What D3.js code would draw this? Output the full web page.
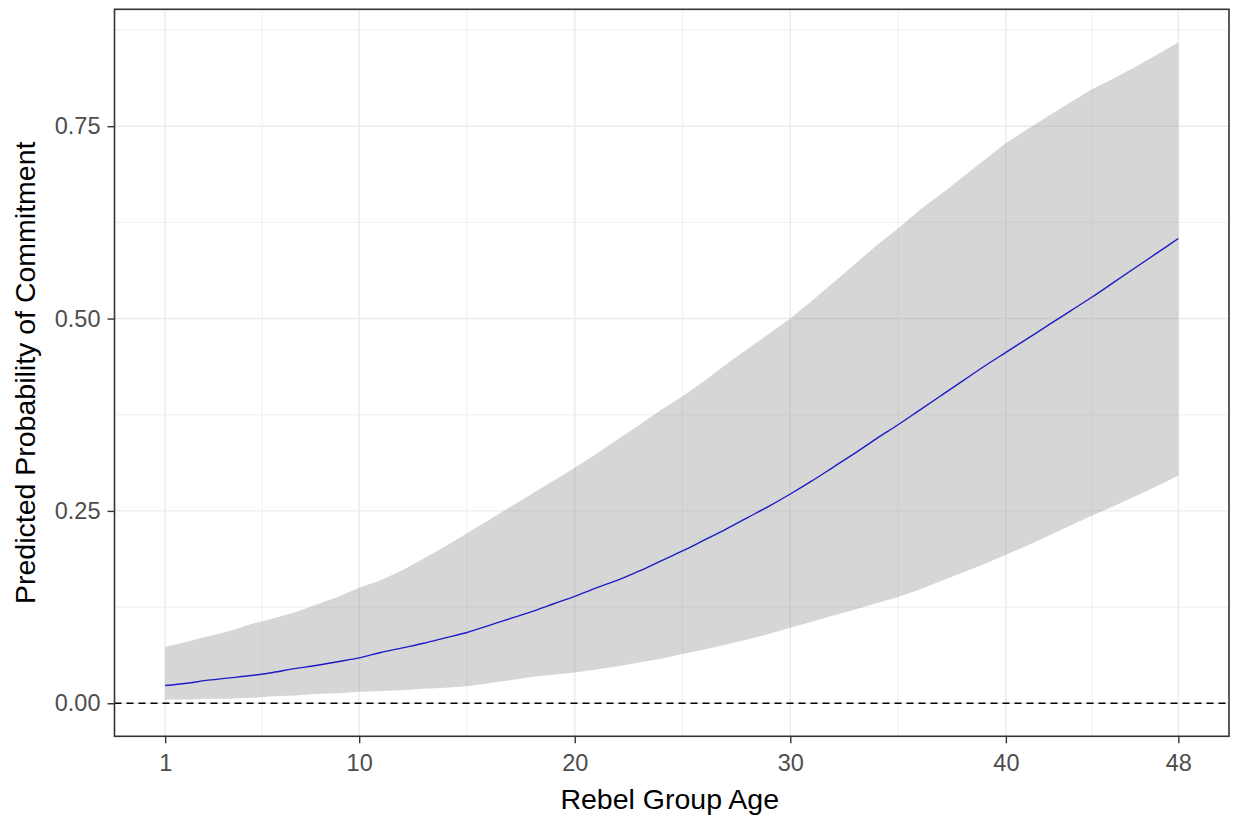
<!DOCTYPE html>
<html>
<head>
<meta charset="utf-8">
<script src="https://cdn.jsdelivr.net/npm/d3@7"></script>
<style>
  html, body { margin: 0; padding: 0; background: #ffffff; }
  svg { display: block; font-family: "Liberation Sans", Arial, sans-serif; }
</style>
</head>
<body>
<svg id="chart" width="1233" height="817"></svg>
<script>
// ---- data ----
const ages = d3.range(1, 49);
const predicted = [0.023,0.026,0.030,0.033,0.036,0.040,0.045,0.049,0.054,0.059,
  0.066,0.072,0.078,0.085,0.092,0.101,0.110,0.119,0.129,0.139,
  0.150,0.160,0.172,0.185,0.198,0.212,0.226,0.241,0.256,0.272,
  0.289,0.307,0.325,0.344,0.362,0.381,0.400,0.419,0.438,0.456,
  0.474,0.492,0.510,0.528,0.547,0.566,0.585,0.604];
const upper = [0.073,0.080,0.087,0.094,0.103,0.110,0.118,0.128,0.138,0.150,
  0.160,0.173,0.188,0.204,0.221,0.238,0.255,0.272,0.289,0.306,
  0.324,0.343,0.362,0.381,0.399,0.419,0.440,0.460,0.480,0.500,
  0.523,0.547,0.571,0.595,0.617,0.641,0.662,0.684,0.706,0.728,
  0.746,0.764,0.781,0.798,0.812,0.827,0.843,0.859];
const lower = [0.005,0.005,0.006,0.006,0.007,0.009,0.010,0.012,0.013,0.015,
  0.016,0.017,0.019,0.020,0.022,0.026,0.030,0.034,0.037,0.040,
  0.044,0.048,0.053,0.058,0.064,0.070,0.076,0.083,0.090,0.098,
  0.106,0.114,0.122,0.130,0.138,0.148,0.159,0.170,0.181,0.193,
  0.205,0.218,0.231,0.244,0.256,0.269,0.282,0.296];
const xTicks = [1, 10, 20, 30, 40, 48];
const xMinorTicks = [5.5, 15, 25, 35, 44];
const yTicks = [0, 0.25, 0.5, 0.75];
const yMinorTicks = [0.125, 0.375, 0.625, 0.875];
const refLine = 0;
const xTitle = "Rebel Group Age";
const yTitle = "Predicted Probability of Commitment";

// ---- layout ----
const svg = d3.select("#chart");
const panel = { left: 114.5, right: 1229, top: 9.3, bottom: 736.3 };

const data = ages.map((a, i) => ({ age: a, fit: predicted[i], lo: lower[i], hi: upper[i] }));

const xMin = d3.min(ages), xMax = d3.max(ages);
const xPad = (xMax - xMin) * 0.05;
const x = d3.scaleLinear().domain([xMin - xPad, xMax + xPad]).range([panel.left, panel.right]);

const yLo = Math.min(refLine, d3.min(lower)), yHi = d3.max(upper);
const yPad = (yHi - yLo) * 0.05;
const y = d3.scaleLinear().domain([yLo - yPad, yHi + yPad]).range([panel.bottom, panel.top]);

// grid
const grid = svg.append("g");
grid.selectAll("line.xminor").data(xMinorTicks).enter().append("line")
  .attr("x1", d => x(d)).attr("x2", d => x(d)).attr("y1", panel.top).attr("y2", panel.bottom)
  .attr("stroke", "#ebebeb").attr("stroke-width", 0.8);
grid.selectAll("line.yminor").data(yMinorTicks).enter().append("line")
  .attr("y1", d => y(d)).attr("y2", d => y(d)).attr("x1", panel.left).attr("x2", panel.right)
  .attr("stroke", "#ebebeb").attr("stroke-width", 0.8);
grid.selectAll("line.xmajor").data(xTicks).enter().append("line")
  .attr("x1", d => x(d)).attr("x2", d => x(d)).attr("y1", panel.top).attr("y2", panel.bottom)
  .attr("stroke", "#ebebeb").attr("stroke-width", 1.4);
grid.selectAll("line.ymajor").data(yTicks).enter().append("line")
  .attr("y1", d => y(d)).attr("y2", d => y(d)).attr("x1", panel.left).attr("x2", panel.right)
  .attr("stroke", "#ebebeb").attr("stroke-width", 1.4);

// ribbon
const area = d3.area().x(d => x(d.age)).y0(d => y(d.lo)).y1(d => y(d.hi));
svg.append("path").datum(data).attr("d", area)
  .attr("fill", "#999999").attr("fill-opacity", 0.4);

// line
const line = d3.line().x(d => x(d.age)).y(d => y(d.fit)).curve(d3.curveMonotoneX);
svg.append("path").datum(data).attr("d", line)
  .attr("fill", "none").attr("stroke", "#1c1cc8").attr("stroke-width", 1.4);

// reference dashed line
svg.append("line")
  .attr("x1", panel.left).attr("x2", panel.right)
  .attr("y1", y(refLine)).attr("y2", y(refLine))
  .attr("stroke", "#000").attr("stroke-width", 1.7).attr("stroke-dasharray", "7,5");

// axes
const xAxis = d3.axisBottom(x).tickValues(xTicks).tickFormat(d3.format("d")).tickSize(7).tickPadding(11);
const gx = svg.append("g").attr("transform", `translate(0,${panel.bottom})`).call(xAxis);
gx.select(".domain").remove();
gx.selectAll(".tick line").attr("stroke", "#333333").attr("stroke-width", 1.4);
gx.selectAll(".tick text").attr("fill", "#4d4d4d").style("font-size", "23.5px")
  .style("font-family", "'Liberation Sans', Arial, sans-serif");

const yAxis = d3.axisLeft(y).tickValues(yTicks).tickFormat(d3.format(".2f")).tickSize(7).tickPadding(7);
const gy = svg.append("g").attr("transform", `translate(${panel.left},0)`).call(yAxis);
gy.select(".domain").remove();
gy.selectAll(".tick line").attr("stroke", "#333333").attr("stroke-width", 1.4);
gy.selectAll(".tick text").attr("fill", "#4d4d4d").style("font-size", "23.5px")
  .style("font-family", "'Liberation Sans', Arial, sans-serif");

// panel border
svg.append("rect")
  .attr("x", panel.left).attr("y", panel.top)
  .attr("width", panel.right - panel.left).attr("height", panel.bottom - panel.top)
  .attr("fill", "none").attr("stroke", "#333333").attr("stroke-width", 1.6);

// titles
svg.append("text").attr("x", (panel.left + panel.right) / 2 - 2).attr("y", 809)
  .attr("text-anchor", "middle").attr("fill", "#000").style("font-size", "28.5px")
  .text(xTitle);
svg.append("text")
  .attr("transform", `translate(35,${(panel.top + panel.bottom) / 2}) rotate(-90)`)
  .attr("text-anchor", "middle").attr("fill", "#000").style("font-size", "28.5px")
  .text(yTitle);
</script>
</body>
</html>
